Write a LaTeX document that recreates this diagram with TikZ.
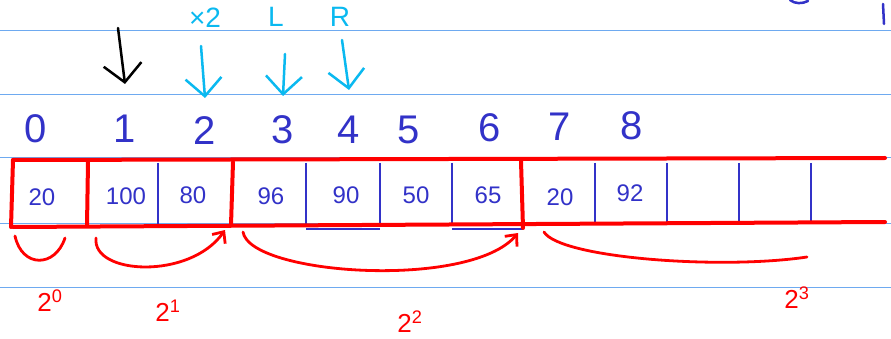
\documentclass[tikz,border=0pt]{standalone}
\usepackage{fontspec}
\setmainfont{Liberation Sans}
\usetikzlibrary{arrows.meta}
\definecolor{rule}{RGB}{110,170,240}
\definecolor{ink}{RGB}{50,50,200}
\definecolor{pen}{RGB}{255,0,0}
\definecolor{sky}{RGB}{10,185,240}
\tikzset{
  ruled/.style={rule, line width=1pt},
  frame/.style={pen, line width=4pt, line cap=round},
  cellwall/.style={ink, line width=2.2pt},
  idx/.style={ink, font=\fontsize{40}{40}\selectfont, inner sep=0pt},
  val/.style={ink, font=\fontsize{24}{24}\selectfont, inner sep=0pt},
  op/.style={sky, font=\fontsize{28}{28}\selectfont, inner sep=0pt},
  oparrow/.style={sky, line width=2.5pt, line cap=round, -{Straight Barb[length=18pt,width=36pt]}},
  brace/.style={pen, line width=2.8pt, line cap=round},
  bracearrow/.style={brace, -{Straight Barb[length=9pt,width=16pt]}},
  power/.style={pen, font=\fontsize{26}{26}\selectfont, inner sep=0pt}
}
\begin{document}
\begin{tikzpicture}[x=1pt,y=-1pt]
\useasboundingbox[fill=white] (0,0) rectangle (891,339);
% notebook ruling
\foreach \yy in {31,95,158,223,287}
  \draw[ruled] (0,\yy) -- (891,\yy);
% cell dividers
\foreach \xx in {158,306,380,452,595,667,739,811}
  \draw[cellwall] (\xx,163) -- (\xx,224);
\draw[cellwall] (306,229) -- (380,229);
\draw[cellwall] (452,229) -- (523,229);
% array frame and group boundaries
\draw[frame] (13,160) -- (885,158);
\draw[frame] (13,227) -- (885,222);
\draw[frame] (13,160) -- (11,227);
\draw[frame] (88,162) -- (87,226);
\draw[frame] (233,162) -- (231,225);
\draw[frame] (521,161) -- (523,228);
% indices
\node[idx] (i0) at (36,129) {0};
\node[idx] (i1) at (125,129) {1};
\node[idx] (i2) at (205,131) {2};
\node[idx] (i3) at (283,130) {3};
\node[idx] (i4) at (349,130) {4};
\node[idx] (i5) at (409,130) {5};
\node[idx] (i6) at (490,128) {6};
\node[idx] (i7) at (560,127) {7};
\node[idx] (i8) at (632,126) {8};
% values
\node[val] (v0) at (42,197) {20};
\node[val] (v1) at (126,196) {100};
\node[val] (v2) at (193,195) {80};
\node[val] (v3) at (271,196) {96};
\node[val] (v4) at (346,195) {90};
\node[val] (v5) at (416,195) {50};
\node[val] (v6) at (488,195) {65};
\node[val] (v7) at (560,197) {20};
\node[val] (v8) at (630,193) {92};
% pointer
\coordinate (p) at (118,28);
\draw[black, line width=2.5pt, line cap=round, -{Straight Barb[length=18pt,width=38pt]}] (p) -- (i1.north|-0,84);
% operations
\node[op] (dbl) at (205,18) {×2};
\node[op] (lft) at (276,17) {L};
\node[op] (rgt) at (340,17) {R};
\coordinate (s2) at (201,46);
\coordinate (s3) at (285,54);
\coordinate (s4) at (342,40);
\draw[oparrow] (s2) -- (i2.north|-0,98);
\draw[oparrow] (s3) -- (i3.north|-0,96);
\draw[oparrow] (s4) -- (i4.north|-0,90);
% partial strokes at the top edge
\draw[ink, line width=2.5pt, line cap=round] (790,0) .. controls (795,4) and (802,4) .. (808,1);
\draw[ink, line width=2.5pt, line cap=round] (883,4) -- (884,24);
% groups
\coordinate (a0) at (15,236);
\coordinate (b0) at (65,238);
\draw[brace] (a0) .. controls (22,268) and (55,268) .. (b0);
\coordinate (a1) at (96,238);
\coordinate (b1) at (225,230);
\draw[bracearrow] (a1) .. controls (92,275) and (190,280) .. (b1);
\coordinate (a2) at (243,232);
\coordinate (b2) at (518,233);
\draw[bracearrow] (a2) .. controls (250,275) and (470,290) .. (b2);
\coordinate (a3) at (544,232);
\coordinate (b3) at (807,257);
\draw[brace] (a3) .. controls (560,258) and (720,270) .. (b3);
\node[power] (g0) at (50,301) {2\textsuperscript{0}};
\node[power] (g1) at (168,311) {2\textsuperscript{1}};
\node[power] (g2) at (410,322) {2\textsuperscript{2}};
\node[power] (g3) at (797,298) {2\textsuperscript{3}};
\end{tikzpicture}
\end{document}
